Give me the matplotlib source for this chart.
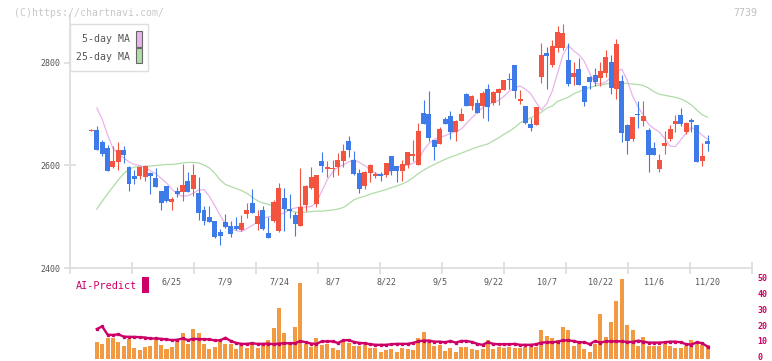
import numpy as np
import matplotlib.pyplot as plt
from matplotlib.patches import Rectangle
from matplotlib.transforms import ScaledTranslation

# daily candles (oldest first)
opens = [2668, 2669, 2646, 2634, 2598, 2606, 2630, 2597, 2580, 2580, 2578, 2585, 2576, 2550, 2560, 2529,
         2551, 2548, 2570, 2555, 2546, 2513, 2500, 2492, 2470, 2490, 2482, 2482, 2474, 2505, 2527, 2486,
         2513, 2468, 2492, 2472, 2537, 2515, 2503, 2482, 2523, 2556, 2525, 2609, 2593, 2593, 2597, 2609,
         2648, 2611, 2585, 2560, 2585, 2579, 2583, 2581, 2619, 2599, 2589, 2601, 2618, 2601, 2702, 2700,
         2650, 2642, 2691, 2697, 2665, 2687, 2740, 2716, 2722, 2716, 2749, 2722, 2741, 2747, 2769, 2796,
         2726, 2716, 2681, 2679, 2773, 2820, 2796, 2829, 2829, 2806, 2773, 2788, 2755, 2773, 2777, 2771,
         2780, 2802, 2749, 2765, 2679, 2652, 2701, 2687, 2669, 2634, 2593, 2638, 2652, 2681, 2699, 2665,
         2689, 2679, 2609, 2648]
highs = [2671, 2678, 2650, 2640, 2638, 2646, 2638, 2599, 2591, 2599, 2601, 2588, 2595, 2550, 2560, 2538,
         2559, 2603, 2588, 2603, 2577, 2520, 2521, 2492, 2476, 2505, 2492, 2500, 2503, 2527, 2554, 2513,
         2521, 2500, 2533, 2566, 2556, 2544, 2509, 2595, 2562, 2597, 2581, 2626, 2609, 2611, 2624, 2642,
         2658, 2628, 2593, 2589, 2603, 2587, 2587, 2605, 2619, 2599, 2611, 2626, 2650, 2683, 2728, 2745,
         2650, 2675, 2695, 2706, 2689, 2712, 2742, 2738, 2730, 2745, 2759, 2745, 2751, 2767, 2780, 2796,
         2747, 2716, 2693, 2714, 2839, 2831, 2845, 2872, 2876, 2839, 2802, 2810, 2755, 2775, 2790, 2802,
         2825, 2816, 2847, 2777, 2681, 2695, 2726, 2726, 2673, 2646, 2622, 2667, 2679, 2699, 2712, 2685,
         2693, 2679, 2644, 2660]
lows = [2667, 2630, 2618, 2590, 2596, 2591, 2605, 2551, 2564, 2574, 2570, 2545, 2559, 2514, 2529, 2514,
        2539, 2531, 2549, 2541, 2494, 2483, 2490, 2459, 2445, 2478, 2460, 2474, 2472, 2498, 2507, 2474,
        2474, 2458, 2490, 2470, 2472, 2498, 2462, 2482, 2511, 2554, 2519, 2587, 2578, 2578, 2581, 2597,
        2617, 2581, 2546, 2554, 2568, 2575, 2570, 2577, 2581, 2568, 2570, 2595, 2609, 2601, 2681, 2648,
        2611, 2642, 2681, 2652, 2648, 2687, 2716, 2708, 2702, 2693, 2687, 2718, 2718, 2747, 2749, 2732,
        2720, 2681, 2667, 2679, 2761, 2749, 2792, 2821, 2825, 2755, 2757, 2757, 2716, 2749, 2755, 2755,
        2773, 2740, 2730, 2646, 2622, 2648, 2673, 2677, 2587, 2620, 2587, 2622, 2648, 2665, 2677, 2661,
        2665, 2607, 2599, 2628]
closes = [2670, 2630, 2622, 2590, 2609, 2630, 2621, 2564, 2574, 2597, 2599, 2580, 2559, 2527, 2531, 2535,
          2544, 2562, 2549, 2581, 2508, 2492, 2490, 2461, 2462, 2480, 2466, 2476, 2488, 2513, 2507, 2501,
          2476, 2458, 2529, 2556, 2515, 2511, 2486, 2519, 2560, 2578, 2581, 2599, 2597, 2595, 2611, 2628,
          2630, 2583, 2554, 2587, 2601, 2583, 2579, 2605, 2589, 2589, 2603, 2626, 2622, 2667, 2681, 2654,
          2636, 2671, 2681, 2665, 2687, 2700, 2716, 2736, 2702, 2741, 2714, 2743, 2749, 2767, 2767, 2745,
          2730, 2683, 2673, 2714, 2816, 2814, 2833, 2861, 2859, 2759, 2780, 2757, 2724, 2763, 2763, 2784,
          2812, 2751, 2837, 2663, 2648, 2695, 2699, 2697, 2620, 2620, 2611, 2644, 2671, 2687, 2681, 2683,
          2685, 2607, 2618, 2642]

ma5 = [np.nan, 2712, 2690, 2660, 2634, 2622, 2615, 2607, 2602, 2600, 2596, 2590, 2584, 2575, 2566, 2554,
       2544, 2540, 2541, 2546, 2552, 2553, 2540, 2522, 2503, 2486, 2477, 2473, 2471, 2477, 2483, 2490,
       2497, 2500, 2500, 2503, 2508, 2514, 2517, 2519, 2519, 2520, 2528, 2550, 2572, 2587, 2597, 2601,
       2607, 2611, 2606, 2600, 2592, 2585, 2581, 2583, 2590, 2596, 2598, 2601, 2604, 2611, 2630, 2643,
       2651, 2655, 2658, 2663, 2666, 2671, 2682, 2693, 2703, 2713, 2719, 2723, 2727, 2735, 2745, 2752,
       2755, 2749, 2740, 2723, 2708, 2721, 2745, 2780, 2816, 2834, 2824, 2816, 2803, 2780, 2760, 2759,
       2763, 2772, 2783, 2788, 2766, 2736, 2715, 2698, 2680, 2672, 2665, 2653, 2638, 2637, 2650, 2663,
       2674, 2669, 2659, 2651]
ma25 = [np.nan, 2515, 2530, 2545, 2558, 2572, 2584, 2593, 2597, 2598, 2598, 2599, 2600, 2601, 2602, 2602,
        2603, 2605, 2606, 2606, 2605, 2601, 2595, 2585, 2572, 2563, 2559, 2555, 2551, 2546, 2538, 2531,
        2527, 2524, 2521, 2518, 2515, 2512, 2509, 2508, 2509, 2510, 2511, 2511, 2512, 2513, 2515, 2518,
        2525, 2533, 2537, 2540, 2544, 2547, 2550, 2553, 2557, 2560, 2564, 2569, 2576, 2584, 2591, 2597,
        2602, 2607, 2612, 2616, 2620, 2624, 2628, 2632, 2636, 2639, 2642, 2648, 2654, 2661, 2667, 2674,
        2683, 2688, 2693, 2698, 2704, 2712, 2716, 2725, 2729, 2733, 2740, 2744, 2749, 2752, 2755, 2757,
        2759, 2761, 2762, 2761, 2760, 2759, 2758, 2756, 2751, 2744, 2739, 2737, 2735, 2733, 2730, 2725,
        2718, 2708, 2699, 2694]

volume = [np.nan, 10.4, 9.1, 12.9, 12.9, 10.4, 7.9, 12.3, 6.6, 5.3, 7.2, 7.9, 11.6, 8.7, 6.0, 7.2,
          11.0, 16.0, 9.1, 18.5, 16.0, 9.1, 6.0, 7.2, 10.4, 9.1, 9.1, 6.0, 8.5, 6.6, 10.4, 6.6,
          8.5, 11.6, 19.2, 31.8, 16.0, 9.1, 19.8, 47.5, 9.1, 7.2, 12.9, 8.5, 9.1, 6.6, 5.3, 11.0,
          9.8, 7.9, 7.9, 8.5, 6.6, 6.6, 4.3, 5.3, 6.0, 4.3, 6.8, 6.2, 5.5, 13.0, 16.8, 10.5,
          8.0, 8.6, 4.9, 6.8, 4.3, 7.4, 7.4, 6.2, 5.5, 6.2, 11.7, 6.2, 7.4, 6.8, 7.4, 6.8,
          6.8, 7.4, 8.0, 7.4, 18.0, 14.2, 13.0, 11.7, 19.9, 18.0, 8.0, 11.1, 6.2, 4.3, 9.2, 28.1,
          13.6, 23.0, 36.3, 50.1, 21.2, 18.0, 8.0, 13.6, 8.0, 8.0, 8.0, 9.2, 8.0, 6.8, 6.8, 8.0,
          11.7, 9.9, 8.6, 8.6]
ai_predict = [np.nan, 18.5, 20.2, 15.0, 14.8, 15.2, 13.8, 13.6, 13.6, 13.4, 13.2, 12.6, 12.6, 12.4, 12.0, 11.6,
              11.8, 12.6, 11.6, 12.4, 12.2, 12.2, 12.0, 11.4, 11.4, 13.0, 11.0, 9.8, 9.2, 9.2, 9.6, 9.2,
              9.2, 9.4, 9.0, 9.4, 9.6, 9.6, 9.6, 11.0, 10.2, 9.4, 9.2, 10.8, 10.8, 10.8, 9.8, 11.4,
              11.6, 10.4, 9.8, 9.6, 9.0, 8.6, 8.6, 8.6, 9.0, 9.2, 9.2, 9.2, 9.8, 10.8, 11.3, 11.3,
              10.6, 10.6, 10.2, 11.0, 10.0, 11.0, 11.0, 10.4, 9.2, 8.6, 10.2, 9.2, 9.0, 9.0, 9.0, 9.2,
              8.6, 8.6, 8.6, 9.0, 10.0, 10.2, 10.2, 10.6, 11.4, 11.4, 11.0, 10.2, 10.2, 9.0, 11.0, 10.0,
              10.8, 10.8, 10.8, 10.8, 10.4, 10.4, 11.2, 10.6, 10.0, 10.0, 10.0, 10.2, 10.6, 10.6, 10.2, 9.0,
              8.8, 10.2, 9.6, 7.5]

date_labels = ['6/25', '7/9', '7/24', '8/7', '8/22', '9/5', '9/22', '10/7', '10/22', '11/6', '11/20']
label_idx = [15, 25, 35, 45, 55, 65, 75, 85, 95, 105, 115]
price_ticks = [2400, 2600, 2800]
vol_ticks = [0, 10, 20, 30, 40, 50]

RED = '#f35440'
BLUE = '#3f7be8'
PINK = '#e8b4ec'
GREEN = '#b0dca8'
ORANGE = '#f29a42'
MAGENTA = '#cc0066'
GRID = '#dedede'
MONO = 'DejaVu Sans Mono'

W, H = 772, 361
plt.rcParams['font.family'] = MONO

def fx(px):
    return px / W

def fy(py):
    return 1 - py / H

fig = plt.figure(figsize=(W / 100, H / 100), dpi=100)
ax = fig.add_axes([fx(70), fy(268), 682 / W, 253 / H])
axv = fig.add_axes([fx(70), fy(358.5), 682 / W, 79.5 / H])

x = np.arange(len(opens))
o = np.array(opens, float)
hi = np.array(highs, float)
lo = np.array(lows, float)
c = np.array(closes, float)
cols = np.where(c >= o, RED, BLUE)

xmin, xmax = -4.013, 123.3

# price panel
ax.plot(x, ma25, color=GREEN, lw=0.9, zorder=1)
ax.plot(x, ma5, color=PINK, lw=0.9, zorder=1)
ax.vlines(x, lo, hi, colors=cols, lw=0.8, zorder=2)
body = np.maximum(np.abs(c - o), 2.0)
ax.bar(x, body, bottom=np.minimum(o, c), width=0.93, color=cols, linewidth=0, zorder=3)

ax.set_xlim(xmin, xmax)
ax.set_ylim(2400, 2893.6)
for s in ['top', 'right']:
    ax.spines[s].set_visible(False)
for s in ['left', 'bottom']:
    ax.spines[s].set_color(GRID)
    ax.spines[s].set_linewidth(1.3)
ax.set_xticks(np.linspace(xmin, xmax, 12))
ax.set_xticklabels([])
ax.set_xticks(label_idx, minor=True)
ax.set_xticklabels(date_labels, minor=True)
ax.tick_params(axis='x', which='major', direction='inout', length=8, width=1.3, color=GRID)
ax.tick_params(axis='x', which='minor', length=0, pad=7, labelsize=6, labelcolor='#555555')
ax.set_yticks(price_ticks)
ax.set_yticklabels([str(t) for t in price_ticks])
ax.tick_params(axis='y', direction='inout', length=8, width=1.3, color=GRID,
               labelsize=6, labelcolor='#555555', pad=3)
ax.patch.set_alpha(0)

# volume / AI panel
axv.bar(x, volume, width=0.75, color=ORANGE, linewidth=0, zorder=1)
axv.plot(x, ai_predict, color=MAGENTA, lw=1.7, marker='s', markersize=1.4, zorder=2)
axv.set_xlim(xmin, xmax)
axv.set_ylim(0, 50)
for s in axv.spines.values():
    s.set_visible(False)
axv.set_xticks([])
axv.yaxis.tick_right()
axv.set_yticks(vol_ticks)
axv.set_yticklabels([str(t) for t in vol_ticks])
axv.tick_params(axis='y', length=0, pad=4, labelsize=6, labelcolor=MAGENTA)
lift = ScaledTranslation(0, 1.2 / 72, fig.dpi_scale_trans)
for t in axv.get_yticklabels():
    t.set_fontweight('bold')
    t.set_transform(t.get_transform() + lift)
axv.patch.set_alpha(0)

# legend box
fig.patches.append(Rectangle((fx(70), fy(71)), 78 / W, 47 / H, transform=fig.transFigure,
                             facecolor='white', edgecolor=GRID, lw=1, zorder=5))
fig.patches.append(Rectangle((fx(136), fy(46.7)), 6 / W, 15.7 / H, transform=fig.transFigure,
                             facecolor=PINK, edgecolor='#666666', lw=0.8, zorder=6))
fig.patches.append(Rectangle((fx(136), fy(63.3)), 6 / W, 15 / H, transform=fig.transFigure,
                             facecolor=GREEN, edgecolor='#666666', lw=0.8, zorder=6))
fig.text(fx(129.5), fy(39.5), '5-day MA', ha='right', va='center', fontsize=7.1,
         color='#555555', zorder=7)
fig.text(fx(129.5), fy(56.5), '25-day MA', ha='right', va='center', fontsize=7.1,
         color='#555555', zorder=7)

# AI-Predict label
fig.text(fx(76), fy(286), 'AI-Predict', ha='left', va='center', fontsize=7.3, color=MAGENTA)
fig.patches.append(Rectangle((fx(142.3), fy(292.7)), 6.7 / W, 15.7 / H, transform=fig.transFigure,
                             facecolor=MAGENTA, edgecolor='none'))

# watermark and code
fig.text(fx(14), fy(12.7), '(C)https://chartnavi.com/', ha='left', va='center',
         fontsize=7.1, color='#c8c8c8')
fig.text(fx(757), fy(12.7), '7739', ha='right', va='center', fontsize=7.1, color='#c0c0c0')

fig.savefig('out.png', dpi=100, facecolor='white')
